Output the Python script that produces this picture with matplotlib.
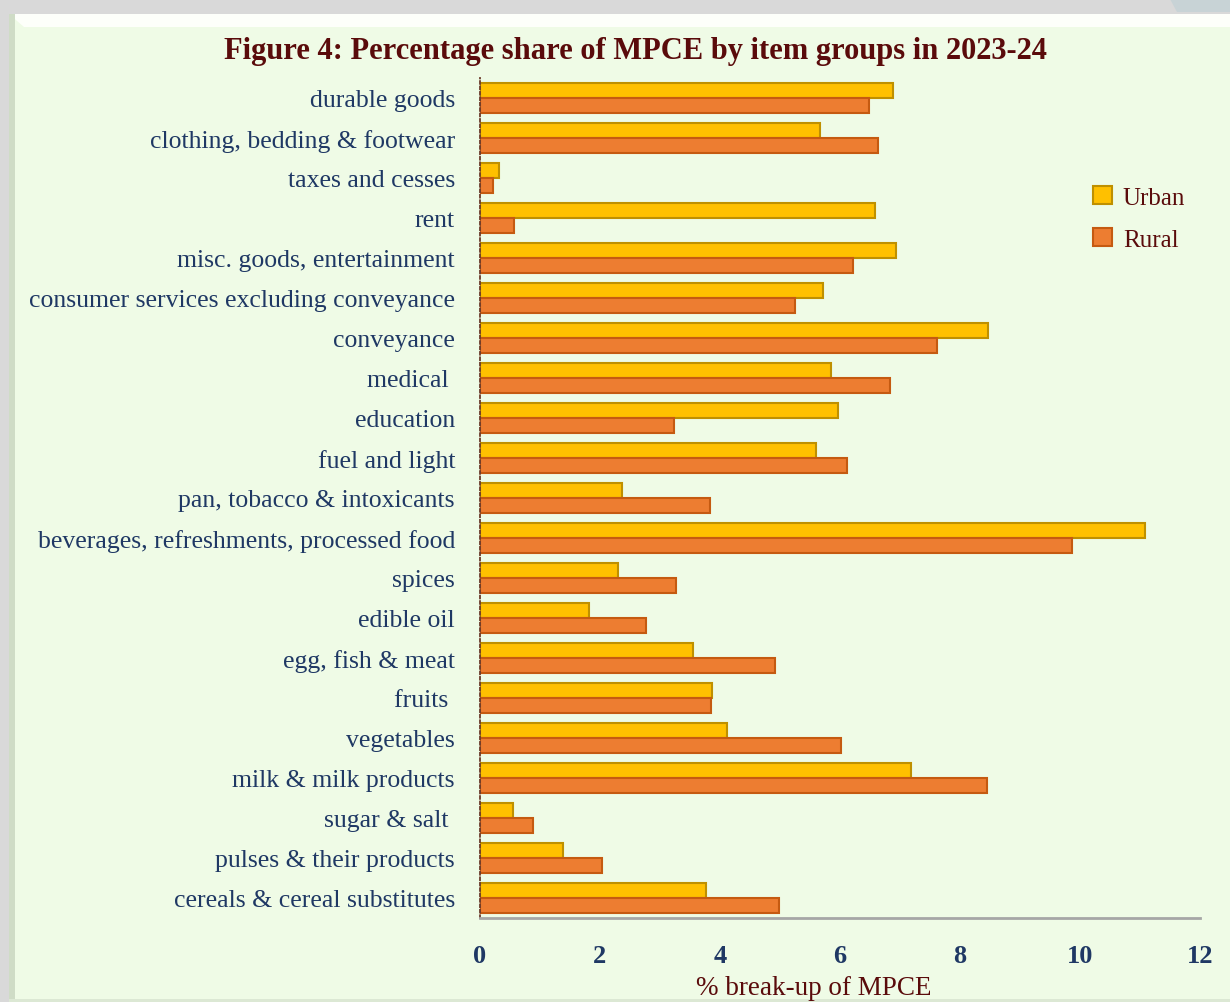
import matplotlib.pyplot as plt
import matplotlib.patches as patches
import numpy as np

categories = [
    "cereals & cereal substitutes",
    "pulses & their products",
    "sugar & salt ",
    "milk & milk products",
    "vegetables",
    "fruits ",
    "egg, fish & meat",
    "edible oil",
    "spices",
    "beverages, refreshments, processed food",
    "pan, tobacco & intoxicants",
    "fuel and light",
    "education",
    "medical ",
    "conveyance",
    "consumer services excluding conveyance",
    "misc. goods, entertainment",
    "rent",
    "taxes and cesses",
    "clothing, bedding & footwear",
    "durable goods",
]
urban = [3.76, 1.38, 0.55, 7.18, 4.12, 3.87, 3.55, 1.82, 2.30, 11.09, 2.37,
         5.60, 5.97, 5.85, 8.47, 5.72, 6.93, 6.58, 0.32, 5.67, 6.88]
rural = [4.99, 2.03, 0.88, 8.45, 6.02, 3.85, 4.92, 2.77, 3.27, 9.87, 3.83,
         6.12, 3.23, 6.83, 7.62, 5.25, 6.22, 0.57, 0.22, 6.63, 6.48]
xticks = [0, 2, 4, 6, 8, 10, 12]

bg = "#EFFBE6"
dark_red = "#5A0B0B"
navy = "#1F3864"
serif = "Liberation Serif"

W, H = 1230, 1003
fig = plt.figure(figsize=(12.3, 10.03), dpi=100)
fig.patch.set_facecolor("#D9D9D9")

# screenshot frame: bluish strip top right, panel, bevel
fig.patches.append(patches.Polygon([[1170 / W, 1], [1, 1], [1, 990 / H], [1177 / W, 990 / H]],
                                   closed=True, transform=fig.transFigure, facecolor="#C8D3D6",
                                   edgecolor="none", zorder=0))
fig.patches.append(patches.Rectangle((9 / W, 0), 1, 988 / H, transform=fig.transFigure,
                                     facecolor=bg, edgecolor="none", zorder=0))
fig.patches.append(patches.Polygon([[9 / W, 988 / H], [1, 988 / H], [1, 975 / H],
                                    [24 / W, 975 / H]], closed=True, transform=fig.transFigure,
                                   facecolor="#FDFFFA", edgecolor="none", zorder=0))
fig.patches.append(patches.Rectangle((9 / W, 0), 6 / W, 988 / H, transform=fig.transFigure,
                                     facecolor="#CFDCC6", edgecolor="none", zorder=0))
fig.patches.append(patches.Rectangle((9 / W, 0), 1, 3 / H, transform=fig.transFigure,
                                     facecolor="#DCE8D4", edgecolor="none", zorder=0))

ax = fig.add_axes([480 / W, 84 / H, 720 / W, 840 / H])
ax.set_zorder(2)
ax.set_facecolor("none")

y = np.arange(len(categories))
h = 0.37
ax.barh(y + h / 2 + 0.005, urban, height=h, color="#FFC000", edgecolor="#BF9000",
        linewidth=1.5, label="Urban")
ax.barh(y - h / 2 - 0.005, rural, height=h, color="#ED7D31", edgecolor="#C55A11",
        linewidth=1.5, label="Rural")

ax.set_xlim(0, 12)
ax.set_ylim(-0.5, len(categories) - 0.5)
ax.set_xticks(xticks)
ax.set_xticklabels([str(t) for t in xticks], fontfamily=serif, fontsize=19,
                   fontweight="bold", color=navy)
ax.set_yticks(y)
ax.set_yticklabels(categories, fontfamily=serif, fontsize=18.5, color=navy)
ax.tick_params(axis="x", length=0, pad=19)
ax.tick_params(axis="y", length=0, pad=18)

for s in ["top", "right"]:
    ax.spines[s].set_visible(False)
ax.spines["left"].set_linestyle((0, (1.5, 1.5)))
ax.spines["left"].set_color("#6B3A2A")
ax.spines["left"].set_linewidth(1.3)
ax.spines["bottom"].set_color("#A6A6A6")
ax.spines["bottom"].set_linewidth(2)

ax.set_xlabel("% break-up of MPCE", fontfamily=serif, fontsize=19.5, color=dark_red)
ax.xaxis.set_label_coords(0.464, -0.068)

fig.text(0.517, 1 - 51 / H, "Figure 4: Percentage share of MPCE by item groups in 2023-24",
         ha="center", va="center", fontfamily=serif, fontsize=22, fontweight="bold",
         color=dark_red)

leg = ax.legend(loc="upper left", bbox_to_anchor=(0.82, 0.898), frameon=False,
                prop={"family": serif, "size": 18}, handlelength=0.75, handleheight=0.75,
                labelspacing=0.75, handletextpad=0.45)
for t in leg.get_texts():
    t.set_color(dark_red)

fig.savefig("out.png", dpi=100, facecolor=fig.get_facecolor())
